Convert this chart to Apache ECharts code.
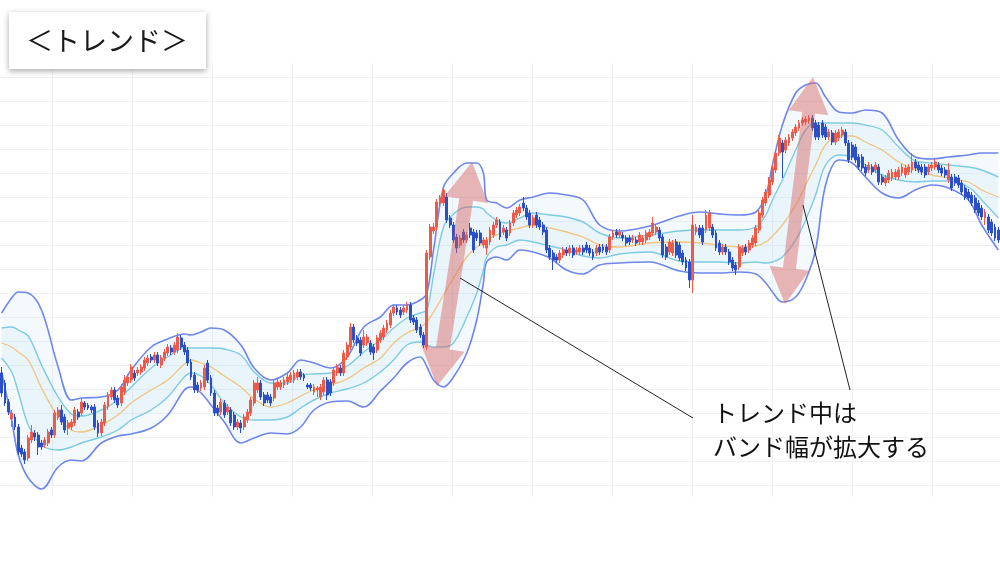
<!DOCTYPE html>
<html>
<head>
<meta charset="utf-8">
<script src="https://cdn.jsdelivr.net/npm/echarts@6/dist/echarts.min.js"></script>
<style>
  html, body { margin: 0; background: #fff; }
  #chart { width: 1000px; height: 563px; }
</style>
</head>
<body>
<div id="chart"></div>
<script>
// price of the lowest grid line, values below are in pips above it
const BASE = 108;
const GRID_STEP = 0.24;

// [open, close, low, high] in pips
const ohlcPips = [
  [112,92,88,118],[102,82,79,105],[83,73,70,86],[66,72,58,75],[68,58,55,71],[58,33,30,61],[37,31,28,40],[33,25,21,36],
  [27,47,24,50],[45,53,42,60],[52,48,44,55],[50,38,30,53],[42,38,35,45],[40,45,37,48],[42,53,39,56],[55,50,47,58],
  [50,72,47,75],[68,75,65,78],[75,63,60,80],[68,55,52,71],[57,62,50,65],[58,63,55,66],[62,75,59,78],[73,68,65,76],
  [72,83,69,86],[82,78,75,84],[80,77,75,82],[78,75,72,80],[78,58,55,81],[62,52,48,65],[52,63,49,66],[62,80,59,83],
  [78,90,75,93],[88,95,85,98],[95,85,82,98],[87,80,77,90],[82,98,79,101],[93,105,90,110],[102,108,99,111],[105,118,102,121],
  [112,107,104,115],[112,115,109,118],[113,118,110,121],[117,125,114,128],[122,127,119,130],[128,125,122,131],[125,130,122,133],[130,122,119,133],
  [120,127,117,130],[127,133,124,136],[132,138,129,141],[137,133,130,140],[133,140,130,143],[135,148,132,152],[147,138,135,150],[140,133,130,143],
  [135,122,119,138],[123,108,105,126],[110,95,92,113],[100,95,92,103],[97,102,94,105],[98,117,95,120],[122,105,102,125],[107,92,89,110],
  [92,72,69,95],[77,72,69,80],[73,83,70,86],[82,70,67,85],[73,78,70,81],[75,62,59,78],[70,58,55,73],[58,63,55,66],
  [62,57,52,65],[58,68,55,71],[65,73,62,76],[72,85,69,88],[82,102,79,105],[95,102,92,108],[102,88,85,105],[90,82,79,93],
  [90,85,82,93],[88,82,79,91],[87,102,84,105],[98,103,95,106],[98,102,95,105],[100,105,97,108],[103,108,100,111],[105,110,102,113],
  [105,112,102,115],[108,113,105,116],[113,108,105,116],[110,107,104,112],[100,98,96,102],[100,97,94,102],[93,98,90,101],[95,97,88,99],
  [88,98,85,101],[93,105,90,108],[105,90,85,108],[103,92,89,106],[102,115,99,118],[112,118,109,121],[117,112,109,120],[112,132,109,135],
  [128,140,125,143],[138,158,135,162],[158,145,142,161],[147,142,139,150],[145,132,129,148],[140,148,137,155],[142,148,139,151],[142,133,130,145],
  [138,132,125,141],[135,147,132,150],[145,152,142,155],[148,157,145,160],[155,162,152,165],[160,172,157,175],[172,178,169,181],[177,173,170,180],
  [175,170,167,178],[173,177,170,180],[175,180,172,183],[180,165,162,183],[167,163,160,170],[165,155,152,168],[158,150,147,161],[150,140,137,153],
  [138,232,135,235],[228,258,225,261],[254,258,251,262],[258,283,255,286],[282,287,279,290],[282,295,279,298],[288,265,262,292],[267,260,257,270],
  [260,245,242,263],[248,237,232,251],[240,247,237,250],[253,245,242,256],[245,250,242,253],[257,250,247,262],[253,235,232,256],[252,247,244,255],
  [252,242,239,255],[240,245,237,248],[237,245,230,248],[243,255,240,258],[250,260,247,263],[260,265,257,268],[263,248,245,266],[253,257,250,260],
  [255,247,244,258],[252,262,249,265],[262,272,259,275],[270,275,267,278],[272,278,269,281],[282,277,274,288],[277,268,265,280],[272,260,257,275],
  [260,267,257,270],[270,260,257,273],[265,258,255,268],[260,253,250,263],[255,235,232,258],[237,228,225,240],[232,225,215,235],[228,225,222,231],
  [225,232,222,235],[230,235,227,238],[235,232,229,238],[232,237,229,240],[237,230,227,240],[233,235,230,238],[233,237,230,240],[237,233,230,240],
  [240,235,232,243],[237,232,229,240],[233,228,225,236],[232,237,229,240],[238,233,230,241],[238,235,232,241],[238,233,230,241],[235,248,232,251],
  [248,252,245,255],[253,250,247,256],[250,253,247,256],[250,247,244,253],[247,242,239,250],[247,243,240,250],[245,247,242,250],[245,242,239,248],
  [243,250,240,253],[243,247,240,250],[245,252,242,255],[248,253,245,256],[252,262,249,268],[253,258,250,261],[255,247,244,258],[248,230,227,251],
  [238,228,225,241],[233,243,230,246],[232,242,229,245],[243,230,227,246],[240,227,224,243],[232,223,220,235],[225,217,214,228],[223,205,197,226],
  [205,260,192,270],[253,258,250,261],[257,250,247,260],[257,243,240,260],[255,270,252,275],[257,272,254,275],[258,250,247,261],[252,237,234,255],
  [242,233,230,245],[233,238,230,241],[238,233,230,241],[233,223,220,236],[225,217,214,228],[220,215,210,223],[218,238,215,241],[232,237,229,240],
  [238,233,230,241],[235,242,232,245],[240,247,237,250],[242,257,239,260],[255,272,252,275],[270,285,267,288],[282,293,279,296],[290,305,287,308],
  [303,317,300,320],[315,332,312,335],[332,347,329,350],[342,333,307,345],[335,345,332,348],[342,348,339,351],[347,353,344,356],[352,358,349,361],
  [357,362,354,365],[362,365,359,368],[363,366,360,369],[364,367,361,370],[367,357,354,370],[362,348,345,365],[360,348,345,363],[362,350,347,365],
  [358,348,345,361],[348,353,345,356],[352,343,340,355],[343,352,340,355],[347,353,344,356],[350,355,347,358],[353,342,339,356],[342,325,322,345],
  [340,328,325,343],[338,325,322,341],[328,318,315,331],[328,317,314,331],[318,312,309,321],[315,320,312,323],[318,313,310,321],[315,320,312,323],
  [318,303,300,321],[308,303,300,311],[302,307,299,310],[305,312,302,315],[307,313,304,316],[308,313,305,316],[308,315,305,318],[312,318,309,321],
  [310,317,307,320],[313,318,310,321],[315,323,312,332],[323,317,314,326],[320,315,312,323],[318,313,310,321],[318,310,307,321],[313,318,310,321],
  [317,320,314,323],[318,323,315,326],[320,315,312,323],[317,312,309,320],[315,310,307,318],[305,315,302,322],[308,297,294,311],[308,302,299,311],
  [307,300,297,310],[302,293,290,305],[297,288,285,300],[293,287,284,296],[290,282,279,293],[287,275,272,290],[282,272,269,285],[277,268,265,280],
  [267,273,260,276],[268,255,252,271],[263,252,249,266],[258,247,244,261],[255,245,242,258]
];

// Bollinger band samples: candle index and level in pips
const bandIdx = [0,3,5,8,12,17,21,24,30,35,39,45,50,55,57,60,63,67,72,76,81,86,90,94,99,104,109,114,118,122,126,128,130,133,136,140,143,145,146,149,152,156,160,165,170,175,180,186,195,204,210,216,222,227,230,232,235,239,242,245,248,252,256,260,265,270,275,280,285,291,295,300];
const upper2 = [172,187,193,192,175,118,85,87,88,95,115,138,146,151,150,153,157,155,140,117,105,112,125,122,117,128,158,168,180,180,185,192,235,298,312,322,322,312,285,282,277,285,288,292,290,285,260,254,259,269,273,271,270,273,290,320,360,392,400,402,388,373,372,375,372,345,328,326,328,330,332,332];
const upper1 = [157,158,155,149,120,88,71,69,75,85,98,117,128,137,137,137,137,136,130,113,102,102,110,111,112,119,133,145,157,167,172,175,210,258,271,278,278,276,272,265,262,267,272,270,268,263,252,247,250,254,255,255,255,258,270,285,305,335,355,362,362,362,362,360,355,338,324,322,320,318,315,308];
const middle = [142,138,133,125,97,68,55,53,60,70,82,95,105,121,125,122,118,109,98,86,78,82,89,95,100,106,117,127,142,152,158,163,173,190,207,228,238,242,245,250,254,257,260,257,253,248,240,238,242,243,242,240,238,239,243,249,260,280,300,320,340,349,349,343,335,323,315,310,307,303,295,288];
const lower1 = [127,113,93,60,40,35,38,42,48,55,65,75,88,108,112,109,100,82,68,65,65,68,77,85,92,96,102,113,125,140,143,140,138,138,142,168,192,215,228,238,240,245,243,239,235,229,227,231,233,224,223,223,222,223,222,223,228,245,265,290,320,330,328,320,310,305,303,304,304,298,285,267];
const lower2 = [113,65,30,7,-4,18,25,24,42,49,51,57,70,95,98,92,80,63,42,47,52,51,58,75,83,84,78,94,107,122,128,118,105,98,108,132,165,202,223,228,225,235,233,227,215,211,220,222,223,214,212,212,213,211,202,193,183,188,205,235,300,325,322,308,292,287,295,300,297,285,260,235];

const titleText = '＜トレンド＞';
const noteLines = ['トレンド中は', 'バンド幅が拡大する'];

const toPrice = p => +(BASE + p / 100).toFixed(2);
const sessions = ohlcPips.map((_, i) => String(i + 1));
const ohlc = ohlcPips.map(r => r.map(toPrice));
const pts = arr => arr.map((p, k) => [bandIdx[k], toPrice(p)]);
const widthPts = (hi, lo) => hi.map((p, k) => [bandIdx[k], +((p - lo[k]) / 100).toFixed(2)]);

const chart = echarts.init(document.getElementById('chart'));
const JP = '"Noto Sans CJK JP", "Noto Sans", sans-serif';
const SM = 0.35;

function lineSeries(name, arr, color, width) {
  return {
    name, type: 'line', data: pts(arr), smooth: SM, symbol: 'none', clip: false, z: 3,
    lineStyle: { color, width }, silent: true
  };
}

// double headed arrow outline
function arrow(x1, y1, x2, y2, sw, hw, hl) {
  const len = Math.hypot(x2 - x1, y2 - y1);
  const dx = (x2 - x1) / len, dy = (y2 - y1) / len;
  const nx = -dy, ny = dx;
  const b1 = [x1 + dx * hl, y1 + dy * hl], b2 = [x2 - dx * hl, y2 - dy * hl];
  const off = (p, w) => [p[0] + nx * w, p[1] + ny * w];
  return [[x1, y1], off(b1, hw / 2), off(b1, sw / 2), off(b2, sw / 2), off(b2, hw / 2), [x2, y2],
    off(b2, -hw / 2), off(b2, -sw / 2), off(b1, -sw / 2), off(b1, -hw / 2)];
}

const arrowFill = 'rgba(214,96,90,0.45)';
const gridLine = { color: '#eef0f4', width: 1 };

const option = {
  animation: false,
  grid: [
    { left: 0, right: 0, top: 77, bottom: 78 },
    { left: 52, right: 0, top: 63, bottom: 66 }
  ],
  xAxis: [
    {
      type: 'category', data: sessions, gridIndex: 0, boundaryGap: true,
      axisLine: { show: false }, axisTick: { show: false }, axisLabel: { show: false },
      splitLine: { show: false }
    },
    {
      // vertical grid lines every 80px
      type: 'value', gridIndex: 1, min: 0, max: 11.85, interval: 1,
      axisLine: { show: false }, axisTick: { show: false }, axisLabel: { show: false },
      splitLine: { show: true, lineStyle: gridLine }
    }
  ],
  yAxis: [
    {
      type: 'value', gridIndex: 0, min: BASE, max: toPrice(408), interval: GRID_STEP,
      axisLine: { show: false }, axisTick: { show: false }, axisLabel: { show: false },
      splitLine: { show: true, lineStyle: gridLine }
    },
    {
      type: 'value', gridIndex: 1, min: 0, max: 1, show: false, splitLine: { show: false }
    }
  ],
  series: [
    {
      name: 'outerBase', type: 'line', stack: 'outer', data: pts(lower2), smooth: SM,
      symbol: 'none', clip: false, lineStyle: { opacity: 0 }, silent: true, z: 1
    },
    {
      name: 'outerFill', type: 'line', stack: 'outer', data: widthPts(upper2, lower2), smooth: SM,
      symbol: 'none', clip: false, lineStyle: { opacity: 0 }, silent: true, z: 1,
      areaStyle: { color: 'rgba(200,228,248,0.32)' }
    },
    {
      name: 'innerBase', type: 'line', stack: 'inner', data: pts(lower1), smooth: SM,
      symbol: 'none', clip: false, lineStyle: { opacity: 0 }, silent: true, z: 1
    },
    {
      name: 'innerFill', type: 'line', stack: 'inner', data: widthPts(upper1, lower1), smooth: SM,
      symbol: 'none', clip: false, lineStyle: { opacity: 0 }, silent: true, z: 1,
      areaStyle: { color: 'rgba(175,215,242,0.22)' }
    },
    lineSeries('+2σ', upper2, '#6f86ea', 1.6),
    lineSeries('-2σ', lower2, '#6f86ea', 1.6),
    lineSeries('+1σ', upper1, '#7fcbe2', 1.4),
    lineSeries('-1σ', lower1, '#7fcbe2', 1.4),
    lineSeries('MA', middle, '#f0c57f', 1.3),
    {
      name: 'price', type: 'candlestick', data: ohlc, barWidth: '72%', clip: false, z: 5,
      itemStyle: {
        color: '#ee5a48', color0: '#2b4fc7',
        borderColor: '#ee5a48', borderColor0: '#2b4fc7', borderWidth: 1
      }
    }
  ],
  graphic: [
    {
      type: 'rect', left: 9, top: 12, z: 10,
      shape: { width: 197, height: 57 },
      style: { fill: '#fff', shadowBlur: 6, shadowOffsetY: 2, shadowColor: 'rgba(0,0,0,0.35)' }
    },
    {
      type: 'text', x: 107, y: 41, z: 11,
      style: { text: titleText, font: '27px ' + JP, fill: '#1a1a1a', align: 'center', verticalAlign: 'middle' }
    },
    {
      type: 'polygon', z: 20, silent: true,
      shape: { points: arrow(472, 162, 437, 386, 14, 44, 38) },
      style: { fill: arrowFill }
    },
    {
      type: 'polygon', z: 20, silent: true,
      shape: { points: arrow(813, 77, 785, 304, 13, 40, 36) },
      style: { fill: arrowFill }
    },
    {
      type: 'line', z: 21, silent: true,
      shape: { x1: 460, y1: 278, x2: 693, y2: 418 },
      style: { stroke: '#222', lineWidth: 1 }
    },
    {
      type: 'line', z: 21, silent: true,
      shape: { x1: 803, y1: 205, x2: 850, y2: 390 },
      style: { stroke: '#222', lineWidth: 1 }
    },
    {
      type: 'text', x: 713, y: 413, z: 21,
      style: { text: noteLines[0], font: '24px ' + JP, fill: '#111', verticalAlign: 'middle' }
    },
    {
      type: 'text', x: 713, y: 447, z: 21,
      style: { text: noteLines[1], font: '24px ' + JP, fill: '#111', verticalAlign: 'middle' }
    }
  ]
};

chart.setOption(option);
</script>
</body>
</html>
